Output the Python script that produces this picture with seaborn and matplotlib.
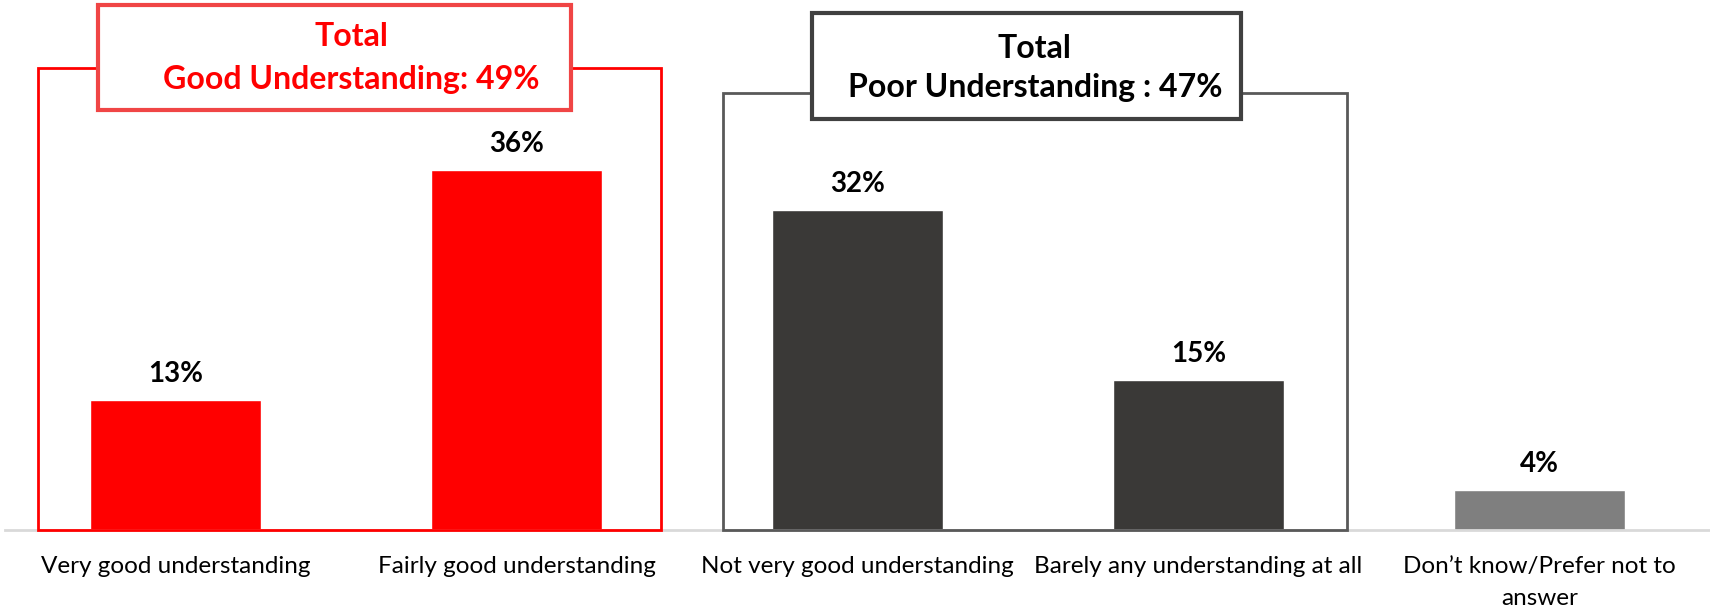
import matplotlib
matplotlib.use("Agg")
import matplotlib.pyplot as plt
import matplotlib.patches as patches
import seaborn as sns

# Data
categories = ["Very good understanding", "Fairly good understanding",
              "Not very good understanding", "Barely any understanding at all",
              "Don\u2019t know/Prefer not to\nanswer"]
values = [13, 36, 32, 15, 4]
bar_colors = ["#FF0000", "#FF0000", "#3A3937", "#3A3937", "#7F7F7F"]
good_total = 49
poor_total = 47

sns.set_theme(style="white")
plt.rcParams["font.family"] = ["Lato", "DejaVu Sans"]

fig = plt.figure(figsize=(17.1, 6.1), dpi=100)
ax = fig.add_axes([5 / 1710, 80 / 610, 1705 / 1710, 530 / 610])

sns.barplot(x=categories, y=values, hue=categories, palette=bar_colors,
            legend=False, width=0.5, saturation=1, ax=ax)

ax.set_xlim(-0.5, 4.5)
ax.set_ylim(0, 53)
ax.set_yticks([])
ax.set_xlabel("")
ax.set_ylabel("")
sns.despine(ax=ax, left=True, top=True, right=True)
ax.spines["bottom"].set_color("#D9D9D9")
ax.spines["bottom"].set_linewidth(2)
ax.tick_params(axis="x", length=0, pad=19, labelsize=17.5, labelcolor="black")
for lbl in ax.get_xticklabels():
    lbl.set_linespacing(1.6)

# Value labels
for i, v in enumerate(values):
    ax.text(i, v + 2.6, f"{v}%", ha="center", va="center",
            fontsize=20, fontweight="bold", color="black")

# Group brackets
ax.add_patch(patches.Rectangle((-0.403, 0), 1.827, 46.2, fill=False,
                               edgecolor="#FF0000", linewidth=2, zorder=3,
                               clip_on=False))
ax.add_patch(patches.Rectangle((1.606, 0), 1.829, 43.7, fill=False,
                               edgecolor="#595959", linewidth=2, zorder=3,
                               clip_on=False))

# Group label boxes
ax.add_patch(patches.Rectangle((-0.227, 42.0), 1.388, 10.45, facecolor="white",
                               edgecolor="#F04545", linewidth=3, zorder=4,
                               clip_on=False))
ax.add_patch(patches.Rectangle((1.868, 41.1), 1.257, 10.6, facecolor="white",
                               edgecolor="#404040", linewidth=3, zorder=4,
                               clip_on=False))

ax.text(0.515, 49.3, "Total", ha="center", va="center", fontsize=23,
        fontweight="bold", color="#FF0000", zorder=5)
ax.text(0.515, 45.1, f"Good Understanding: {good_total}%", ha="center",
        va="center", fontsize=23, fontweight="bold", color="#FF0000", zorder=5)
ax.text(2.52, 48.2, "Total", ha="center", va="center", fontsize=23,
        fontweight="bold", color="black", zorder=5)
ax.text(2.52, 44.2, f"Poor Understanding : {poor_total}%", ha="center",
        va="center", fontsize=23, fontweight="bold", color="black", zorder=5)

fig.savefig("out.png", dpi=100)
